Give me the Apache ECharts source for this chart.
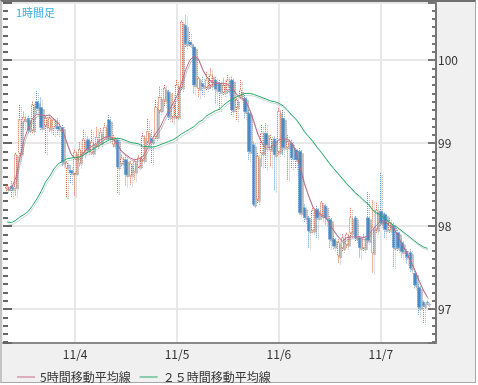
<!DOCTYPE html>
<html>
<head>
<meta charset="utf-8">
<script src="https://cdn.jsdelivr.net/npm/echarts@6/dist/echarts.min.js"></script>
<style>
  html, body { margin: 0; padding: 0; background: #fff; }
  #frame { position: absolute; left: 0; top: 0; width: 476px; height: 383px; box-sizing: border-box;
           background: #f0f0f0; border-top: 2px solid #707070; border-left: 2px solid #c4c4c4;
           border-right: 1px solid #a8a8a8; border-bottom: 1px solid #a8a8a8; }
  #plot { position: absolute; left: 3px; top: 3px; width: 433px; height: 340px; background: #fff; }
  #chart { position: absolute; left: 0; top: 0; width: 478px; height: 385px; }
</style>
</head>
<body>
<div id="frame"></div>
<div id="plot"></div>
<div id="chart"></div>
<script>
// ---- data ----
const title = '1時間足';
const legendNames = ['5時間移動平均線', '２５時間移動平均線'];
const firstBar = { month: 11, day: 3, hour: 8 };   // first candle time (hourly bars)

const open  = [98.45,98.48,98.47,98.88,99.28,99.30,99.16,99.50,99.43,99.21,
               99.18,99.20,99.20,99.19,98.71,98.67,98.64,98.77,98.89,99.04,
               98.89,98.98,99.01,99.07,99.28,98.98,99.04,98.76,98.80,98.62,
               98.66,98.72,98.80,99.02,99.06,99.08,99.40,99.52,99.62,99.32,
               99.32,99.68,100.42,100.22,100.16,99.66,99.72,99.68,99.70,99.76,
               99.72,99.62,99.64,99.76,99.44,99.58,99.54,99.36,98.98,98.32,
               98.88,99.12,98.92,99.05,98.90,99.30,98.95,99.00,98.92,98.90,
               98.22,98.10,97.95,98.20,98.12,98.24,98.08,97.84,97.64,97.74,
               97.78,97.92,98.10,97.86,97.74,98.10,97.68,97.96,98.18,98.14,
               97.96,98.00,97.92,97.80,97.70,97.68,97.43,97.26,97.08,97.08];
const close = [98.47,98.45,98.86,99.28,99.31,99.16,99.46,99.42,99.19,99.30,
               99.30,99.28,99.17,98.77,98.76,98.64,98.89,98.92,99.04,98.92,
               99.01,99.07,99.13,99.19,99.07,99.07,98.71,98.82,98.62,98.75,
               98.78,98.82,99.08,99.14,99.02,99.43,99.55,99.66,99.32,99.46,
               99.70,100.46,100.20,100.19,99.70,99.78,99.68,99.76,99.82,99.65,
               99.62,99.70,99.76,99.40,99.52,99.64,99.38,98.90,98.26,98.84,
               99.12,98.98,99.05,98.86,99.38,98.95,99.02,98.82,98.80,98.16,
               98.10,97.94,98.19,98.10,98.28,98.10,97.84,97.76,97.80,97.86,
               97.90,98.10,97.86,97.74,97.86,97.83,97.98,98.19,98.04,97.96,
               98.04,97.74,97.74,97.69,97.62,97.49,97.29,97.02,97.04,97.07];
const low   = [98.42,98.35,98.37,98.80,99.18,99.12,99.12,99.36,99.16,98.88,
               99.14,99.10,99.10,98.73,98.35,98.52,98.37,98.72,98.85,98.88,
               98.86,98.95,98.98,99.04,99.03,98.95,98.40,98.72,98.49,98.50,
               98.56,98.70,98.78,98.98,98.76,99.05,99.36,99.45,99.28,99.25,
               99.30,99.64,100.16,100.17,99.60,99.56,99.58,99.64,99.66,99.48,
               99.40,99.58,99.60,99.34,99.28,99.54,99.30,98.80,98.24,98.28,
               98.72,98.70,98.72,98.43,98.86,98.86,98.56,98.70,98.70,98.14,
               98.05,97.74,97.92,97.86,98.08,98.02,97.74,97.72,97.56,97.70,
               97.74,97.88,97.82,97.62,97.70,97.80,97.44,97.92,98.00,97.86,
               97.92,97.51,97.70,97.62,97.55,97.45,97.25,96.93,96.83,97.05];
const high  = [98.50,98.54,98.88,99.46,99.38,99.33,99.50,99.63,99.55,99.33,
               99.34,99.30,99.30,99.22,98.78,98.73,98.92,99.01,99.16,99.08,
               99.16,99.19,99.18,99.24,99.34,99.10,99.06,98.86,98.86,98.78,
               98.80,98.85,99.12,99.29,99.16,99.52,99.68,99.70,99.64,99.60,
               99.76,100.48,100.54,100.34,100.18,99.80,99.80,99.86,99.90,99.80,
               99.76,99.78,99.82,99.80,99.55,99.76,99.58,99.40,99.02,98.88,
               99.22,99.24,99.10,99.08,99.42,99.40,99.10,99.04,98.94,98.94,
               98.26,98.12,98.22,98.24,98.30,98.26,98.12,97.88,97.84,97.90,
               97.92,98.22,98.12,97.88,97.90,98.41,98.31,98.28,98.64,98.16,
               98.10,98.04,97.95,97.84,97.72,97.72,97.46,97.30,97.10,97.10];
const ma5   = [98.46,98.46,98.58,98.82,99.05,99.19,99.30,99.35,99.34,99.33,
               99.34,99.29,99.25,99.16,99.01,98.87,98.82,98.83,98.89,98.94,
               98.96,99.00,99.04,99.07,99.08,99.05,98.98,98.90,98.86,98.82,
               98.80,98.81,98.84,98.93,99.04,99.12,99.19,99.30,99.39,99.47,
               99.57,99.72,99.88,100.00,100.05,100.02,99.89,99.80,99.75,99.72,
               99.72,99.72,99.71,99.67,99.59,99.55,99.52,99.42,99.27,99.11,
               99.00,98.94,98.95,98.99,99.04,99.05,99.05,99.01,98.89,98.70,
               98.51,98.36,98.23,98.17,98.14,98.11,98.02,97.94,97.87,97.82,
               97.86,97.87,97.87,97.87,97.86,97.89,97.95,98.01,98.06,98.06,
               98.01,97.98,97.88,97.78,97.69,97.58,97.47,97.34,97.23,97.14];
const ma25  = [98.05,98.04,98.07,98.11,98.14,98.18,98.25,98.33,98.42,98.53,
               98.60,98.69,98.75,98.78,98.81,98.82,98.83,98.83,98.86,98.89,
               98.92,98.95,98.98,99.01,99.04,99.05,99.06,99.05,99.03,99.01,
               99.00,98.99,98.96,98.96,98.95,98.96,98.98,99.00,99.02,99.04,
               99.07,99.11,99.14,99.17,99.20,99.25,99.28,99.33,99.36,99.39,
               99.41,99.46,99.50,99.53,99.56,99.58,99.60,99.60,99.59,99.57,
               99.55,99.53,99.51,99.50,99.48,99.45,99.40,99.34,99.29,99.22,
               99.14,99.08,99.02,98.95,98.89,98.82,98.75,98.69,98.63,98.57,
               98.51,98.46,98.40,98.36,98.31,98.27,98.20,98.16,98.13,98.09,
               98.05,98.01,97.98,97.94,97.90,97.86,97.82,97.78,97.75,97.73];

const yMin = 96.59, yMax = 100.69;
const padBefore = 1, padAfter = 2;

// ---- categories (hourly) ----
const categories = [];
{
  const totalSlots = padBefore + open.length + padAfter;
  let d = firstBar.day, h = firstBar.hour - padBefore;
  for (let k = 0; k < totalSlots; k++) {
    categories.push(firstBar.month + '/' + d + ' ' + (h < 10 ? '0' : '') + h + ':00');
    h++; if (h === 24) { h = 0; d++; }
  }
}
const isDayStart = (idx, val) => / 00:00$/.test(val || categories[idx]);

const pad = (arr) => [...Array(padBefore).fill('-'), ...arr, ...Array(padAfter).fill('-')];
const candles = pad(open.map((o, i) => [o, close[i], low[i], high[i]]));

const FONT = "'Noto Sans CJK JP', 'Noto Sans', sans-serif";
const chart = echarts.init(document.getElementById('chart'), null, { renderer: 'canvas' });
chart.setOption({
  animation: false,
  backgroundColor: 'transparent',
  textStyle: { fontFamily: FONT },
  title: { text: title, left: 11, top: 2, textStyle: { fontSize: 11, color: '#3aaee0', fontWeight: 'normal', fontFamily: FONT } },
  legend: {
    data: legendNames, left: 12, top: 366, itemWidth: 18, itemHeight: 1, itemGap: 9, icon: 'rect',
    textStyle: { fontSize: 12, color: '#333', fontFamily: FONT }
  },
  grid: { left: 3, top: 3, right: 42, bottom: 42, containLabel: false },
  xAxis: {
    type: 'category', data: categories, boundaryGap: false,
    axisLine: { show: true, lineStyle: { color: '#888', width: 2 } },
    axisTick: { show: false },
    axisLabel: { interval: (i, v) => isDayStart(i, v), formatter: v => v.split(' ')[0], color: '#333', fontSize: 12, margin: 5, fontFamily: FONT },
    splitLine: { show: true, interval: (i, v) => isDayStart(i, v), lineStyle: { color: '#e8e8e8', width: 2 } }
  },
  yAxis: [
    {
      type: 'value', position: 'right', min: yMin, max: yMax, splitNumber: 4,
      axisLine: { show: true, lineStyle: { color: '#777', width: 2 } },
      axisTick: { show: true, inside: true, length: 8, lineStyle: { color: '#777', width: 2 } },
      minorTick: { show: true, splitNumber: 10, length: 4, lineStyle: { color: '#777', width: 2 } },
      axisLabel: { margin: 2, color: '#333', fontSize: 12, showMinLabel: false, showMaxLabel: false, fontFamily: FONT,
                   formatter: v => (Math.abs(v - Math.round(v)) < 1e-6 ? String(Math.round(v)) : '') },
      splitLine: { show: true, lineStyle: { color: '#e8e8e8', width: 2 } }
    },
    {
      type: 'value', position: 'left', min: yMin, max: yMax, splitNumber: 4,
      axisLine: { show: false },
      axisTick: { show: true, inside: true, length: 9, lineStyle: { color: '#666', width: 2 } },
      minorTick: { show: true, splitNumber: 10, length: 5, lineStyle: { color: '#666', width: 2 } },
      axisLabel: { show: false },
      splitLine: { show: false }
    }
  ],
  series: [
    {
      type: 'candlestick', data: candles, barWidth: 3, yAxisIndex: 0,
      itemStyle: {
        color: '#ffffff', borderColor: '#e0603c',
        color0: '#4a8cc8', borderColor0: '#5a9ad6',
        borderWidth: 1, borderType: 'dotted',
        shadowColor: 'rgba(110,110,110,0.45)', shadowOffsetX: 2, shadowOffsetY: 2, shadowBlur: 0
      }
    },
    {
      name: legendNames[0], type: 'line', data: pad(ma5), symbol: 'none', yAxisIndex: 0,
      lineStyle: { color: '#c06a88', width: 1, shadowColor: 'rgba(120,120,120,0.45)', shadowOffsetX: 1, shadowOffsetY: 2, shadowBlur: 0 },
      itemStyle: { color: '#c06a88' }
    },
    {
      name: legendNames[1], type: 'line', data: pad(ma25), symbol: 'none', yAxisIndex: 0,
      lineStyle: { color: '#22aa66', width: 1, shadowColor: 'rgba(110,150,150,0.35)', shadowOffsetX: 1, shadowOffsetY: 2, shadowBlur: 0 },
      itemStyle: { color: '#22aa66' }
    }
  ]
});
</script>
</body>
</html>
